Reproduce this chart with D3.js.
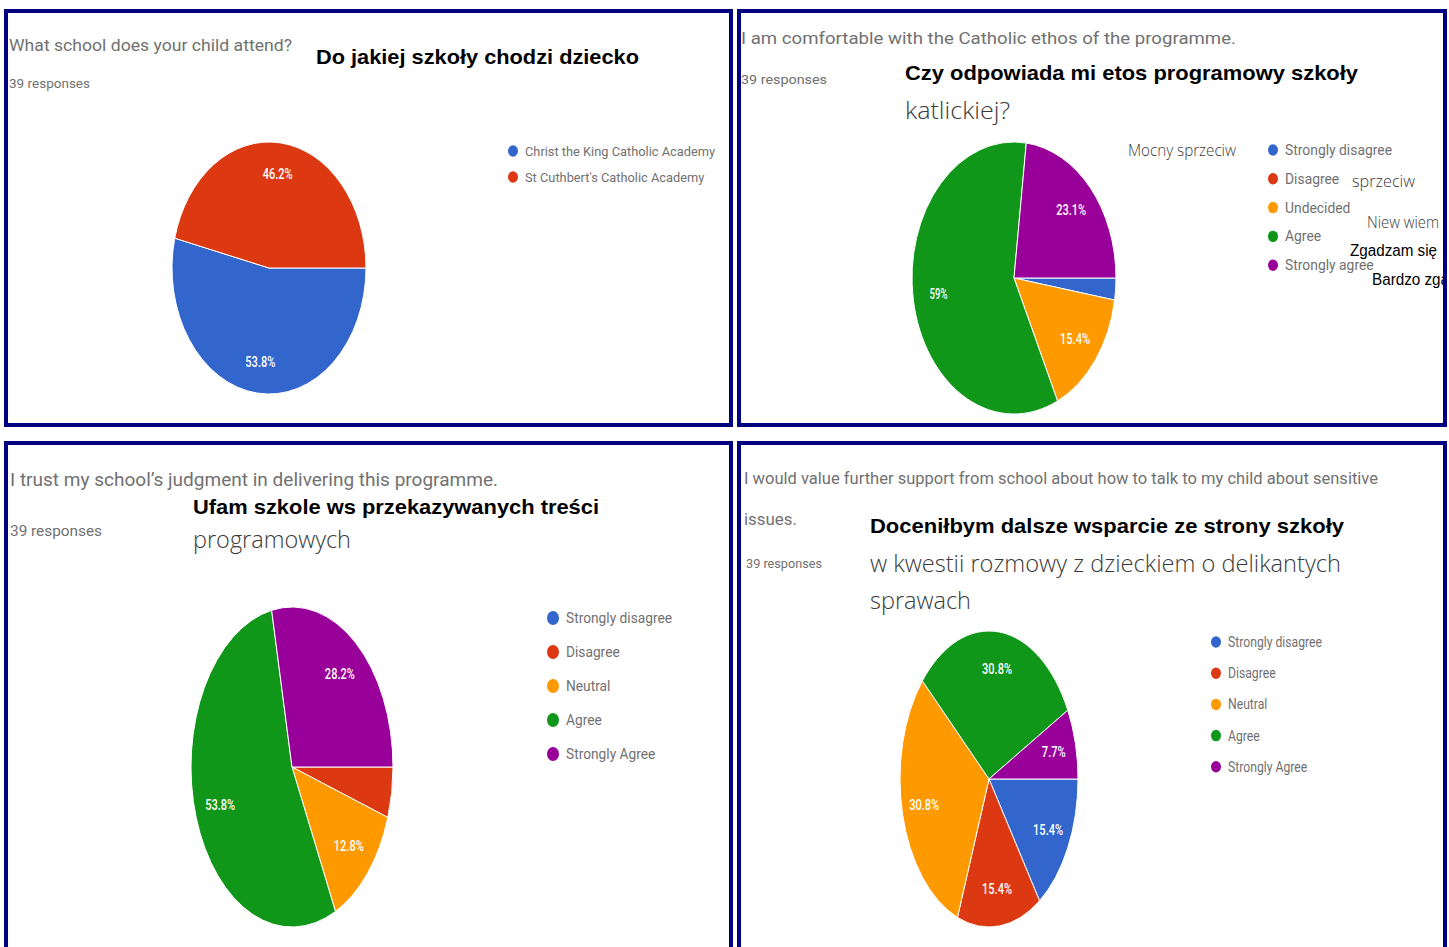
<!DOCTYPE html>
<html>
<head>
<meta charset="utf-8">
<script src="https://cdn.jsdelivr.net/npm/d3@7"></script>
<style>
  body { margin: 0; background: #fff; }
  svg { display: block; }
</style>
</head>
<body>
<div id="chart"></div>
<script>
// data (percent of 39 responses)
const schoolCats = ["Christ the King Catholic Academy", "St Cuthbert's Catholic Academy"];
const schoolPct = [53.8, 46.2];

const ethosCats = ["Strongly disagree", "Disagree", "Undecided", "Agree", "Strongly agree"];
const ethosPct = [2.6, 0, 15.4, 59, 23.1];

const trustCats = ["Strongly disagree", "Disagree", "Neutral", "Agree", "Strongly Agree"];
const trustPct = [0, 5.1, 12.8, 53.8, 28.2];

const supportCats = ["Strongly disagree", "Disagree", "Neutral", "Agree", "Strongly Agree"];
const supportPct = [15.4, 15.4, 30.8, 30.8, 7.7];

const sliceColors = ["#3366cc", "#dc3912", "#ff9900", "#109618", "#990099"];

const width = 1449, height = 947;
const navy = "#000080";
const grey = "#717171";
const lightFont = "'Open Sans', 'DejaVu Sans', sans-serif";
const googleFont = "Roboto, 'Liberation Sans', sans-serif";
const boldFont = "'Liberation Sans', Arial, sans-serif";

const svg = d3.select("#chart").append("svg")
  .attr("width", width)
  .attr("height", height);

svg.append("rect").attr("width", width).attr("height", height).attr("fill", "#fff");

svg.append("defs").append("clipPath").attr("id", "clipTR")
  .append("rect").attr("x", 737).attr("y", 9).attr("width", 706).attr("height", 418);

// text helper: squeeze text into the width seen in the picture
function label(g, t, x, y, o) {
  const el = g.append("text")
    .attr("x", x).attr("y", y)
    .style("font-family", o.family || googleFont)
    .style("font-size", o.size + "px")
    .style("font-weight", o.weight || 400)
    .attr("fill", o.fill || grey)
    .text(t);
  if (o.w) el.attr("textLength", o.w).attr("lengthAdjust", "spacingAndGlyphs");
  return el;
}

const pie = d3.pie().sort(null).value(d => d)
  .startAngle(Math.PI / 2).endAngle(Math.PI / 2 + 2 * Math.PI);

function drawPie(cats, vals, p) {
  const arcs = pie(vals);
  const arc = d3.arc().innerRadius(0).outerRadius(p.ry);
  const labelArc = d3.arc().innerRadius(p.ry * 0.75).outerRadius(p.ry * 0.75);
  const k = p.rx / p.ry;

  svg.append("g")
    .attr("transform", `translate(${p.cx},${p.cy}) scale(${k},1)`)
    .selectAll("path")
    .data(arcs.filter(d => d.value > 0))
    .enter()
    .append("path")
    .attr("d", arc)
    .attr("fill", d => sliceColors[d.index])
    .attr("stroke", "#fff")
    .attr("stroke-width", 1)
    .attr("vector-effect", "non-scaling-stroke");

  svg.append("g")
    .attr("transform", `translate(${p.cx},${p.cy})`)
    .selectAll("text")
    .data(arcs.filter(d => d.value >= 6))
    .enter()
    .append("text")
    .attr("x", d => labelArc.centroid(d)[0] * k)
    .attr("y", d => labelArc.centroid(d)[1])
    .attr("dy", "0.35em")
    .attr("text-anchor", "middle")
    .style("font-family", googleFont)
    .style("font-size", "14px")
    .style("font-weight", 500)
    .attr("fill", "#fff")
    .attr("textLength", d => (d.value + "%").length * 6)
    .attr("lengthAdjust", "spacingAndGlyphs")
    .text(d => d.value + "%");

  // legend
  const lg = svg.append("g");
  const rows = lg.selectAll("g")
    .data(cats)
    .enter()
    .append("g")
    .attr("transform", (d, i) => `translate(${p.lx},${p.ly + i * p.lstep})`);
  rows.append("ellipse")
    .attr("rx", p.lr).attr("ry", p.lr * 1.15)
    .attr("fill", (d, i) => sliceColors[i]);
  const texts = rows.append("text")
    .attr("x", p.lr + 7)
    .attr("dy", "0.35em")
    .style("font-family", googleFont)
    .style("font-size", p.lsize + "px")
    .attr("fill", grey)
    .text(d => d);
  const w0 = texts.node().getComputedTextLength();
  const s = p.lw / w0;
  texts.each(function () {
    d3.select(this)
      .attr("textLength", this.getComputedTextLength() * s)
      .attr("lengthAdjust", "spacingAndGlyphs");
  });
}

// ---------- panel 1 ----------
const g1 = svg.append("g");
label(g1, "What school does your child attend?", 9, 51, { size: 17, w: 283 });
label(g1, "39 responses", 9, 88, { size: 13, w: 81 });
label(g1, "Do jakiej szkoły chodzi dziecko", 316, 64, { size: 21, weight: 700, family: boldFont, fill: "#000", w: 323 });
drawPie(schoolCats, schoolPct, { cx: 269, cy: 268, rx: 97, ry: 126, lx: 513, ly: 151, lstep: 26, lr: 5, lsize: 13, lw: 190 });

// ---------- panel 2 ----------
const g2 = svg.append("g").attr("clip-path", "url(#clipTR)");
label(g2, "I am comfortable with the Catholic ethos of the programme.", 741, 44, { size: 17, w: 495 });
label(g2, "39 responses", 741, 84, { size: 13, w: 86 });
label(g2, "Czy odpowiada mi etos programowy szkoły", 905, 80, { size: 21, weight: 700, family: boldFont, fill: "#000", w: 453 });
label(g2, "katlickiej?", 905, 119, { size: 24, weight: 300, family: lightFont, fill: "#3a3a3a", w: 105 });
label(g2, "Mocny sprzeciw", 1128, 156, { size: 16, weight: 300, family: lightFont, fill: "#3a3a3a", w: 108 });
drawPie(ethosCats, ethosPct, { cx: 1014, cy: 278, rx: 102, ry: 136, lx: 1273, ly: 150, lstep: 28.8, lr: 5, lsize: 14, lw: 107 });
label(g2, "sprzeciw", 1352, 187, { size: 17, weight: 300, family: lightFont, fill: "#3a3a3a", w: 63 });
label(g2, "Niew wiem", 1367, 228, { size: 17, weight: 300, family: lightFont, fill: "#3a3a3a", w: 72 });
label(g2, "Zgadzam się", 1350, 256, { size: 16, family: boldFont, fill: "#000", w: 87 });
label(g2, "Bardzo zgadzam się", 1372, 285, { size: 16, family: boldFont, fill: "#000", w: 138 });

// ---------- panel 3 ----------
const g3 = svg.append("g");
label(g3, "I trust my school\u2019s judgment in delivering this programme.", 10, 486, { size: 18, w: 488 });
label(g3, "Ufam szkole ws przekazywanych treści", 193, 514, { size: 21, weight: 700, family: boldFont, fill: "#000", w: 406 });
label(g3, "39 responses", 10, 536, { size: 15, w: 92 });
label(g3, "programowych", 193, 548, { size: 24, weight: 300, family: lightFont, fill: "#3a3a3a", w: 158 });
drawPie(trustCats, trustPct, { cx: 292, cy: 767, rx: 101, ry: 160, lx: 553, ly: 618, lstep: 34, lr: 6, lsize: 15, lw: 106 });

// ---------- panel 4 ----------
const g4 = svg.append("g");
label(g4, "I would value further support from school about how to talk to my child about sensitive", 744, 484, { size: 17, w: 634 });
label(g4, "issues.", 744, 525, { size: 17, w: 53 });
label(g4, "39 responses", 746, 568, { size: 12, w: 76 });
label(g4, "Doceniłbym dalsze wsparcie ze strony szkoły", 870, 533, { size: 21, weight: 700, family: boldFont, fill: "#000", w: 474 });
label(g4, "w kwestii rozmowy z dzieckiem o delikantych", 870, 572, { size: 24, weight: 300, family: lightFont, fill: "#3a3a3a", w: 471 });
label(g4, "sprawach", 870, 609, { size: 24, weight: 300, family: lightFont, fill: "#3a3a3a", w: 101 });
drawPie(supportCats, supportPct, { cx: 989, cy: 779, rx: 89, ry: 148, lx: 1216, ly: 642, lstep: 31.2, lr: 5, lsize: 14, lw: 94 });

// ---------- panel borders ----------
const frames = [
  { x: 6, y: 11, w: 725, h: 414 },
  { x: 739, y: 11, w: 706, h: 414 },
  { x: 6, y: 443, w: 725, h: 600 },
  { x: 739, y: 443, w: 706, h: 600 }
];
svg.selectAll(".frame")
  .data(frames)
  .enter()
  .append("rect")
  .attr("class", "frame")
  .attr("x", d => d.x).attr("y", d => d.y)
  .attr("width", d => d.w).attr("height", d => d.h)
  .attr("fill", "none")
  .attr("stroke", navy)
  .attr("stroke-width", 4);
</script>
</body>
</html>
